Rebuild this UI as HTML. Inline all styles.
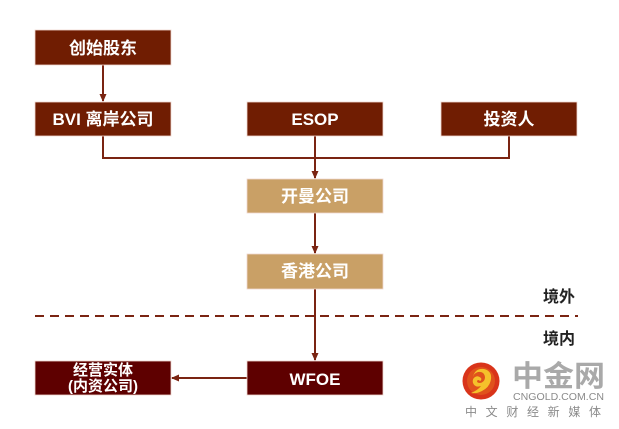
<!DOCTYPE html>
<html><head><meta charset="utf-8"><style>
html,body{margin:0;padding:0;background:#fff;}
svg{display:block;}
text{font-family:"Liberation Sans","Noto Sans CJK SC",sans-serif;}
</style></head><body>
<svg width="619" height="429" viewBox="0 0 619 429" xmlns="http://www.w3.org/2000/svg">
<defs>
<marker id="ah" markerWidth="8" markerHeight="8" refX="7" refY="4" orient="auto" markerUnits="userSpaceOnUse">
<path d="M0,0.5 L8,4 L0,7.5 z" fill="#7a2412"/>
</marker>
</defs>
<rect width="619" height="429" fill="#fff"/>
<g stroke="#7a2412" stroke-width="2" fill="none">
<line x1="103" y1="65" x2="103" y2="101" marker-end="url(#ah)"/>
<polyline points="103,136 103,158 509,158 509,136"/>
<line x1="315" y1="136" x2="315" y2="178" marker-end="url(#ah)"/>
<line x1="315" y1="213" x2="315" y2="253" marker-end="url(#ah)"/>
<line x1="315" y1="289" x2="315" y2="360" marker-end="url(#ah)"/>
<line x1="247" y1="378" x2="172" y2="378" marker-end="url(#ah)"/>
<line x1="35" y1="316" x2="578" y2="316" stroke-dasharray="9 6" stroke-width="2"/>
</g>
<g stroke="#f0d8d0" stroke-width="0.8">
<rect x="35" y="30" width="136" height="35" fill="#701d02"/>
<rect x="35" y="102" width="136" height="34" fill="#701d02"/>
<rect x="247" y="102" width="136" height="34" fill="#701d02"/>
<rect x="441" y="102" width="136" height="34" fill="#701d02"/>
<rect x="247" y="179" width="136" height="34" fill="#c9a066"/>
<rect x="247" y="254" width="136" height="35" fill="#c9a066"/>
<rect x="247" y="361" width="136" height="34" fill="#5e0000"/>
<rect x="35" y="361" width="136" height="34" fill="#5e0000"/>
</g>
<g fill="#fff" font-weight="bold" font-size="17" text-anchor="middle">
<text x="103" y="54">创始股东</text>
<text x="103" y="125">BVI 离岸公司</text>
<text x="315" y="125">ESOP</text>
<text x="509" y="125">投资人</text>
<text x="315" y="202">开曼公司</text>
<text x="315" y="277">香港公司</text>
<text x="315" y="385">WFOE</text>
<text x="103" y="375" font-size="15">经营实体</text>
<text x="103" y="391" font-size="15">(内资公司)</text>
</g>
<g fill="#222" font-weight="bold" font-size="16">
<text x="543" y="302">境外</text>
<text x="543" y="344">境内</text>
</g>
<circle cx="481" cy="381" r="18.5" fill="#d9341a"/>
<circle cx="481" cy="381" r="14" fill="#e0521c"/>
<path d="M473,377 q2,-9 11,-8 q8,2 7,10 q-1,8 -9,12 q-6,3 -11,2 q7,-3 10,-7 q-6,2 -8,-3 q-1,-4 2,-6 q3,-2 6,1 q1,2 -1,3 q-2,-2 -3,0 q0,2 3,2 q5,-1 5,-6 q-1,-6 -7,-5 q-4,1 -5,5 z" fill="#f5c12b"/>
<text x="512" y="386" font-size="29" font-weight="bold" fill="#a9a9a9" textLength="93" lengthAdjust="spacingAndGlyphs">中金网</text>
<text x="513" y="400" font-size="10" fill="#8a8a8a" textLength="91" lengthAdjust="spacingAndGlyphs">CNGOLD.COM.CN</text>
<text x="465" y="416" font-size="12" fill="#8a8a8a" textLength="136" lengthAdjust="spacing">中文财经新媒体</text>
</svg>
</body></html>
